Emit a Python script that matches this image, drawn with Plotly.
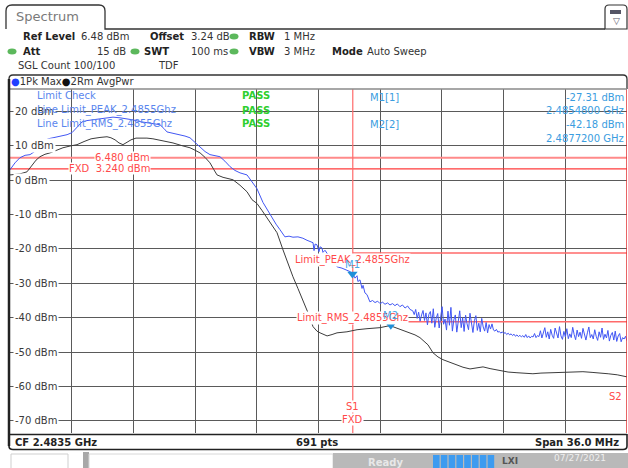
import numpy as np
import plotly.graph_objects as go

W, H = 628, 468
FONT = "DejaVu Sans"

# ---------------- data ----------------
span_start, span_stop = 2465.5, 2501.5          # MHz
ref_level = 6.48
fxd_level = 3.24
limit_peak = -21.2
limit_rms = -41.2
limit_start = 2485.5
y_top, y_bottom = 26.48, -73.52

blue_mhz = [2465.50, 2465.79, 2466.08, 2466.38, 2466.67, 2467.08, 2467.43, 2467.72, 2468.01, 2468.42,
            2468.83, 2469.12, 2469.41, 2469.70, 2469.99, 2470.34, 2470.75, 2471.16, 2471.51, 2471.92,
            2472.33, 2472.68, 2473.08, 2473.49, 2473.84, 2474.25, 2474.48, 2474.66, 2475.01, 2475.42,
            2475.71, 2476.00, 2476.29, 2476.59, 2476.88, 2477.17, 2477.46, 2477.75, 2478.04, 2478.34,
            2478.63, 2478.92, 2479.33, 2479.62, 2479.91, 2480.26, 2480.55, 2480.79, 2481.02, 2481.25,
            2481.54, 2481.78, 2482.01, 2482.30, 2482.59, 2482.83, 2483.00, 2483.18, 2483.24, 2483.30,
            2483.41, 2483.53, 2483.59, 2483.70, 2483.76, 2483.88, 2484.23, 2484.58, 2484.87, 2485.16,
            2485.34, 2485.51, 2485.63, 2485.75, 2485.80, 2485.92, 2486.04, 2486.10, 2486.21, 2486.33,
            2486.45, 2486.50, 2486.65, 2486.80, 2486.95, 2487.09, 2487.24, 2487.38, 2487.53, 2487.67,
            2487.82, 2487.96, 2488.10, 2488.25, 2488.40, 2488.55, 2488.70, 2488.84]
blue_dbm = [3.0, 5.0, 6.5, 7.2, 7.4, 8.8, 11.1, 12.0, 12.3, 12.8,
            13.2, 13.8, 15.2, 16.9, 17.3, 17.5, 17.9, 18.1, 18.3, 18.1,
            17.8, 17.5, 17.0, 16.7, 16.4, 16.1, 15.0, 14.0, 13.6, 13.2,
            12.8, 12.3, 11.0, 9.7, 8.3, 7.4, 7.0, 6.8, 5.5, 3.9,
            2.8, 2.1, 1.5, -0.5, -2.5, -6.5, -9.0, -11.0, -12.8, -14.4,
            -16.5, -16.3, -16.6, -16.5, -16.9, -17.5, -17.9, -18.2, -20.5, -18.6,
            -18.8, -20.8, -19.4, -19.7, -21.0, -20.4, -23.0, -25.2, -25.6, -26.1,
            -26.6, -27.3, -28.5, -27.8, -29.5, -29.0, -31.5, -30.6, -32.8, -33.3,
            -35.0, -35.4, -35.0, -35.6, -35.2, -35.9, -35.5, -36.1, -35.7, -36.3,
            -35.9, -36.5, -36.0, -36.8, -36.3, -37.2, -36.6, -37.6]
# noisy tail of the Pk Max trace, sweep points from 2489.0 MHz to the stop frequency
blue_tail_start = 2489.0
blue_tail_dbm = [-38.0, -39.1, -37.6, -40.2, -38.4, -41.0, -39.2, -37.9, -40.8, -38.6,
                 -42.1, -39.0, -38.2, -41.6, -37.4, -42.8, -40.1, -38.8, -43.0, -39.5,
                 -36.8, -41.9, -40.4, -43.6, -38.1, -42.2, -37.0, -43.9, -40.6, -39.2,
                 -44.2, -41.1, -38.0, -42.9, -40.0, -44.0, -39.3, -41.8, -43.5, -38.7,
                 -42.4, -44.3, -40.9, -39.4, -43.7, -41.6, -44.1, -40.2, -42.7, -43.9,
                 -41.4, -44.4, -42.0, -43.3, -41.8,
                 -43.6, -43.9, -43.4, -44.2, -44.0, -44.5, -44.1, -44.6, -44.3, -44.9,
                 -44.5, -45.0, -44.7, -45.2, -44.8, -45.4, -45.0, -45.5, -45.1, -45.6,
                 -45.2, -45.7, -44.9, -45.8, -45.3, -45.9, -45.4, -45.6, -44.6, -45.8,
                 -45.2, -45.5,
                 -43.8, -45.9, -44.6, -42.9, -45.7, -44.1, -46.2, -43.4, -45.1, -46.0,
                 -43.0, -44.8, -45.9, -42.6, -45.3, -46.3, -44.0, -45.6, -43.2, -46.1,
                 -44.7, -45.8, -42.8, -44.9, -46.4, -43.6, -45.5, -44.2, -46.0, -43.1,
                 -45.2, -46.5, -44.4, -42.7, -45.8, -44.9, -46.2, -43.5, -45.4, -46.6,
                 -44.1, -45.7, -43.0, -46.3, -44.8, -45.9, -43.7, -46.8, -45.1, -44.3,
                 -46.5, -43.9, -46.9, -45.3, -44.6, -47.0, -45.8, -46.2, -45.4, -46.7]

black_mhz = [2465.50, 2466.08, 2466.49, 2466.78, 2467.02, 2467.25, 2467.54, 2467.83, 2468.24, 2468.59,
             2469.00, 2469.41, 2469.82, 2470.23, 2470.75, 2471.16, 2471.39, 2471.63, 2471.86, 2472.09,
             2472.33, 2472.56, 2472.85, 2473.14, 2473.49, 2473.84, 2474.43, 2475.01, 2475.54, 2476.00,
             2476.29, 2476.59, 2476.88, 2477.17, 2477.40, 2477.58, 2477.93, 2478.22, 2478.51, 2478.92,
             2479.33, 2479.62, 2479.91, 2480.20, 2480.55, 2480.79, 2481.08, 2481.43, 2481.72, 2482.01,
             2482.30, 2482.59, 2482.89, 2483.18, 2483.41, 2483.59, 2484.00, 2484.29, 2484.58, 2485.16,
             2485.75, 2486.33, 2487.09, 2487.67, 2487.96, 2488.25, 2488.84, 2489.13, 2489.42, 2489.89,
             2490.18, 2490.47, 2490.76, 2491.17, 2491.58, 2491.93, 2492.34, 2492.75, 2493.10, 2493.51,
             2494.09, 2494.56, 2495.08, 2495.55, 2496.01, 2496.48, 2497.01, 2497.47, 2497.96, 2498.43,
             2498.93, 2499.46, 2499.93, 2500.40, 2500.93, 2501.22, 2501.50]
black_dbm = [1.5, 1.8, 2.4, 4.4, 5.8, 6.8, 7.5, 7.9, 8.7, 9.4,
             9.9, 10.3, 11.2, 12.0, 12.4, 12.6, 12.3, 11.7, 10.8, 10.3,
             11.0, 11.7, 12.2, 12.3, 12.2, 12.0, 11.5, 10.8, 10.0, 9.4,
             8.7, 7.9, 6.6, 5.0, 3.0, 1.5, 0.8, 0.5, 0.1, -1.5,
             -3.4, -5.7, -6.8, -8.8, -11.5, -13.0, -15.3, -20.3, -24.5, -28.1,
             -31.5, -34.8, -38.6, -42.6, -43.9, -44.4, -45.3, -44.9, -44.4, -44.1,
             -43.5, -43.2, -42.9, -42.3, -42.8, -43.5, -44.4, -45.0, -45.8, -47.9,
             -50.2, -51.4, -52.2, -53.0, -53.7, -54.4, -54.9, -54.5, -54.3, -54.8,
             -55.4, -55.8, -56.0, -56.2, -56.3, -56.1, -56.0, -55.9, -56.0, -55.8,
             -55.7, -55.9, -56.0, -56.3, -56.6, -56.9, -57.2]

marker_names = ["M1", "M2"]
marker_traces = ["1", "2"]
marker_mhz = [2485.48, 2487.72]
marker_dbm = [-27.31, -42.18]

ytick_vals = [20, 10, 0, -10, -20, -30, -40, -50, -60, -70]
ytick_text = [f"{v} dBm" for v in ytick_vals]

limit_names = ["Limit_PEAK_2.4855Ghz", "Limit_RMS_2.4855Ghz"]
limit_values = [limit_peak, limit_rms]

# ---------------- helpers (pixel -> paper) ----------------
def sx(x):
    return x / W

def sy(y):
    return 1 - y / H

def ppath(s):
    out, nums = [], []
    for tok in s.split():
        if tok.isalpha():
            out.append(tok)
        else:
            nums.append(float(tok))
            if len(nums) == 2:
                out.append(f"{sx(nums[0]):.5f},{sy(nums[1]):.5f}")
                nums = []
    return " ".join(out)

shapes = []
ann = []

def rect(x0, y0, x1, y1, fill=None, line=None, lw=1, layer="above"):
    shapes.append(dict(type="rect", xref="paper", yref="paper", x0=sx(x0), x1=sx(x1),
                       y0=sy(y1), y1=sy(y0), fillcolor=fill or "rgba(0,0,0,0)",
                       line=dict(color=line or "rgba(0,0,0,0)", width=lw if line else 0), layer=layer))

def hline(x0, x1, y, color, w):
    shapes.append(dict(type="line", xref="paper", yref="paper", x0=sx(x0), x1=sx(x1),
                       y0=sy(y), y1=sy(y), line=dict(color=color, width=w)))

def vline(x, y0, y1, color, w):
    shapes.append(dict(type="line", xref="paper", yref="paper", x0=sx(x), x1=sx(x),
                       y0=sy(y0), y1=sy(y1), line=dict(color=color, width=w)))

def text(x, y, t, size=10, color="#333", anchor="left", bold=False, bg=None, yanchor="middle"):
    ann.append(dict(xref="paper", yref="paper", x=sx(x), y=sy(y), text=(f"<b>{t}</b>" if bold else t),
                    showarrow=False, xanchor=anchor, yanchor=yanchor,
                    font=dict(family=FONT, size=size, color=color),
                    bgcolor=bg, borderpad=0))

# ---------------- figure ----------------
fig = go.Figure()

BLUE = "#4257f4"
BLACK = "#3c3c3c"
RED = "#ff4a4a"

fig.add_trace(go.Scatter(x=[span_start, span_stop], y=[ref_level, ref_level], mode="lines",
                         line=dict(color="#ff8a8a", width=2), hoverinfo="skip"))
fig.add_trace(go.Scatter(x=[span_start, span_stop], y=[fxd_level, fxd_level], mode="lines",
                         line=dict(color="#ff3b3b", width=1.2), hoverinfo="skip"))
for lv in limit_values:
    fig.add_trace(go.Scatter(x=[limit_start, span_stop], y=[lv, lv], mode="lines",
                             line=dict(color="#ff6a6a", width=1.5), hoverinfo="skip"))
fig.add_trace(go.Scatter(x=[limit_start, limit_start], y=[y_bottom, y_top], mode="lines",
                         line=dict(color="#ff6a6a", width=1.2), hoverinfo="skip"))

blue_tail_mhz = np.linspace(blue_tail_start, span_stop, len(blue_tail_dbm))
fig.add_trace(go.Scatter(x=list(blue_mhz) + list(blue_tail_mhz), y=blue_dbm + blue_tail_dbm,
                         mode="lines", line=dict(color=BLUE, width=1)))
fig.add_trace(go.Scatter(x=black_mhz, y=black_dbm, mode="lines", line=dict(color=BLACK, width=1)))

fig.add_trace(go.Scatter(x=marker_mhz, y=marker_dbm, mode="markers",
                         marker=dict(symbol="triangle-down", size=9, color="#1f8fd8")))

# right border S2 (red)
shapes.append(dict(type="line", xref="x", yref="paper", x0=span_stop, x1=span_stop,
                   y0=sy(433), y1=sy(89), line=dict(color="#e03030", width=1.5)))

# marker-table white box hides grid
shapes.append(dict(type="rect", xref="paper", yref="paper", x0=sx(368), x1=sx(626),
                   y0=sy(143), y1=sy(90), fillcolor="white", line=dict(width=0), layer="between"))

# ---------------- frame & header decoration ----------------
shapes.append(dict(type="path", xref="paper", yref="paper",
                   path=ppath("M 6 29 L 6 11 Q 6 5 12 5 L 99 5 Q 105 5 105 11 L 105 29 L 605 29"),
                   line=dict(color="#333", width=1.3)))
shapes.append(dict(type="path", xref="paper", yref="paper",
                   path=ppath("M 605 29 L 605 9 Q 605 5 609 5 L 623 5 Q 627 5 627 9 L 627 29 Z"),
                   line=dict(color="#333", width=1.2), fillcolor="white"))
rect(610, 10, 621, 14, fill="#556", line=None)
text(616, 21, "▽", size=9, color="#556", anchor="center")
text(15, 17, "Spectrum", size=13, color="#7a7a7a")

shapes.append(dict(type="path", xref="paper", yref="paper",
                   path=ppath("M 9 89 L 9 79 Q 9 75 13 75 L 623 75 Q 627 75 627 79 L 627 89"),
                   line=dict(color="#333", width=1.3)))
hline(10, 627, 89, "#8a8a8a", 1.5)
vline(9, 79, 446, "#222", 2.5)
hline(10, 627, 434.5, "#222", 1.5)
shapes.append(dict(type="path", xref="paper", yref="paper",
                   path=ppath("M 9 446 Q 9 449.5 13 449.5 L 623 449.5 Q 627 449.5 627 446 L 627 434"),
                   line=dict(color="#222", width=1.6)))

for cx, cy in [(234, 36.5), (12, 51.5), (135, 51.5), (234, 51.5)]:
    shapes.append(dict(type="circle", xref="paper", yref="paper", x0=sx(cx - 4.5), x1=sx(cx + 4.5),
                       y0=sy(cy + 3), y1=sy(cy - 3), fillcolor="#5cb85c", line=dict(width=0)))

text(22, 36.5, "Ref Level", bold=True, color="#222")
text(80, 36.5, "6.48 dBm")
text(149, 36.5, "Offset", bold=True, color="#222")
text(190, 36.5, "3.24 dB")
text(248, 36.5, "RBW", bold=True, color="#222")
text(283, 36.5, "1 MHz")
text(22, 51.5, "Att", bold=True, color="#222")
text(127, 51.5, "15 dB", anchor="right")
text(143, 51.5, "SWT", bold=True, color="#222")
text(190, 51.5, "100 ms")
text(248, 51.5, "VBW", bold=True, color="#222")
text(283, 51.5, "3 MHz")
text(331, 51.5, "Mode", bold=True, color="#222")
text(366, 51.5, "Auto Sweep")
text(17, 66, "SGL Count 100/100")
text(157, 66, "TDF")
text(10, 81.5, '<span style="color:#1f3fff">●</span>1Pk Max<span style="color:#111">●</span>2Rm AvgPwr',
     color="#333")

for v, t in zip(ytick_vals, ytick_text):
    ann.append(dict(xref="paper", yref="y", x=sx(13), y=v, text=t, showarrow=False,
                    xanchor="left", yanchor="middle", bgcolor="white", borderpad=1,
                    font=dict(family=FONT, size=10, color="#3a3a3a")))

LC = "#5a86ee"
GREEN = "#2fcf2f"
text(36, 96, "Limit Check", color=LC)
text(36, 110, "Line Limit_PEAK_2.4855Ghz", color=LC)
text(36, 124, "Line Limit_RMS_2.4855Ghz", color=LC)
for yy in (96, 110, 124):
    text(241, yy, "PASS", color=GREEN, bold=True)

MC = "#3a9de0"
for i, (nm, tr, f, d) in enumerate(zip(marker_names, marker_traces, marker_mhz, marker_dbm)):
    y0 = 97 + 27.5 * i
    text(369, y0, f"{nm}[{tr}]", color=MC)
    text(625, y0, f"{d:.2f} dBm", color=MC, anchor="right")
    text(625, y0 + 13.5, f"{f / 1000:.7f} GHz", color=MC, anchor="right")

ann.append(dict(xref="paper", yref="y", x=sx(151), y=ref_level, text=f"{ref_level:.3f} dBm",
                showarrow=False, xanchor="right", yanchor="middle", bgcolor="white", borderpad=0,
                font=dict(family=FONT, size=10, color=RED)))
ann.append(dict(xref="paper", yref="y", x=sx(151), y=fxd_level,
                text=f"FXD\u00a0\u00a0{fxd_level:.3f} dBm",
                showarrow=False, xanchor="right", yanchor="middle", bgcolor="white", borderpad=0,
                font=dict(family=FONT, size=10, color=RED)))

for nm, lv in zip(limit_names, limit_values):
    ann.append(dict(xref="x", yref="y", x=limit_start, y=lv, text=nm, showarrow=False,
                    xanchor="center", yanchor="middle", yshift=-7 if lv == limit_peak else 4,
                    bgcolor="white", borderpad=0, font=dict(family=FONT, size=10, color=RED)))

for nm, f, d in zip(marker_names, marker_mhz, marker_dbm):
    ann.append(dict(xref="x", yref="y", x=f, y=d, text=nm, showarrow=False, xanchor="center",
                    yanchor="middle", yshift=10, font=dict(family=FONT, size=10, color="#4aa8e8")))

ann.append(dict(xref="x", yref="paper", x=limit_start, y=sy(406), text="S1", showarrow=False,
                xanchor="center", yanchor="middle", bgcolor="white", borderpad=0,
                font=dict(family=FONT, size=10, color=RED)))
ann.append(dict(xref="x", yref="paper", x=limit_start, y=sy(419), text="FXD", showarrow=False,
                xanchor="center", yanchor="middle", bgcolor="white", borderpad=0,
                font=dict(family=FONT, size=10, color=RED)))
text(623, 396, "S2", color=RED, anchor="right")

text(14, 442.5, "CF 2.4835 GHz", bold=True, color="#222")
text(317, 442.5, "691 pts", bold=True, color="#222", anchor="center")
text(620, 442.5, "Span 36.0 MHz", bold=True, color="#222", anchor="right")

rect(11, 454, 68, 472, line="#cfcfcf", lw=1)
rect(83, 452, 89, 472, fill="#a8a8a8")
rect(89, 454, 333, 472, line="#d8d8d8", lw=1)
rect(333, 453, 628, 472, fill="#b9b9b9")
text(367, 462, "Ready", color="#e8e8e8", bold=True)
for k in range(8):
    rect(433 + k * 7.8, 455, 433 + k * 7.8 + 6.6, 470, fill="#3d9bf0")
text(510, 461, "LXI", color="#555", bold=True, size=9, anchor="center")
text(580, 458, "07/27/2021", color="#eeeeee", size=9, anchor="center")

fig.update_layout(
    width=W, height=H, margin=dict(l=0, r=0, t=0, b=0),
    paper_bgcolor="white", plot_bgcolor="white", showlegend=False,
    shapes=shapes, annotations=ann,
    xaxis=dict(range=[span_start, span_stop], domain=[sx(10), sx(627)], showgrid=True,
               tick0=span_start, dtick=3.6, gridcolor="#5a5a5a", gridwidth=1.4,
               showticklabels=False, zeroline=False, showline=False, ticks=""),
    yaxis=dict(range=[y_bottom, y_top], domain=[sy(433), sy(89)], showgrid=True,
               tick0=0, dtick=10, gridcolor="#5a5a5a", gridwidth=1.4,
               showticklabels=False, zeroline=False, showline=False, ticks=""),
)

fig.write_html("out.html", config={"displayModeBar": False},
               post_script="document.body.style.margin='0px';document.body.style.overflow='hidden';")
